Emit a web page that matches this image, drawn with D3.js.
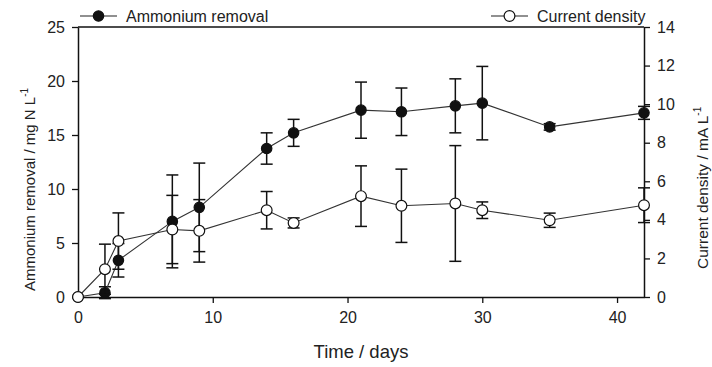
<!DOCTYPE html>
<html>
<head>
<meta charset="utf-8">
<script src="https://cdn.jsdelivr.net/npm/d3@7"></script>
<style>
  html, body { margin: 0; padding: 0; background: #fff; }
  svg { display: block; }
  text { font-family: Arial, "Liberation Sans", sans-serif; fill: #222; }
</style>
</head>
<body>
<svg id="chart" width="712" height="367"></svg>
<script>
// ---- data ----
const days = [0, 2, 3, 7, 9, 14, 16, 21, 24, 28, 30, 35, 42];
const ammonium = [0, 0.4, 3.4, 7.0, 8.3, 13.75, 15.2, 17.3, 17.15, 17.7, 17.95, 15.75, 17.05];
const ammoniumErr = [0, 0.55, 1.55, 4.3, 4.1, 1.45, 1.25, 2.6, 2.2, 2.5, 3.4, 0.3, 0.6];
const current = [0, 1.44, 2.9, 3.5, 3.43, 4.5, 3.84, 5.23, 4.73, 4.85, 4.5, 3.98, 4.76];
const currentErr = [0, 1.3, 1.46, 1.77, 1.62, 0.97, 0.26, 1.57, 1.9, 3.0, 0.43, 0.37, 0.9];
const xTicks = [0, 10, 20, 30, 40];
const yLeftTicks = [0, 5, 10, 15, 20, 25];
const yRightTicks = [0, 2, 4, 6, 8, 10, 12, 14];

const svg = d3.select("#chart");
const L = 78, R = 644, T = 27, B = 297;

const x = d3.scaleLinear().domain([0, 42]).range([L, R]);
const yL = d3.scaleLinear().domain([0, 25]).range([B, T]);
const yR = d3.scaleLinear().domain([0, 14]).range([B, T]);

// frame top line
svg.append("line").attr("x1", L).attr("x2", R).attr("y1", T).attr("y2", T)
  .attr("stroke", "#111").attr("stroke-width", 1.5);

function styleAxis(g) {
  g.selectAll(".domain").attr("stroke", "#111").attr("stroke-width", 1.5);
  g.selectAll(".tick line").attr("stroke", "#111").attr("stroke-width", 1.3);
  g.selectAll(".tick text").style("font-size", "16px").attr("fill", "#222")
    .style("font-family", "Arial, 'Liberation Sans', sans-serif");
}

svg.append("g").attr("transform", `translate(0,${B})`)
  .call(d3.axisBottom(x).tickValues(xTicks).tickSize(6).tickPadding(9).tickSizeOuter(0))
  .call(styleAxis);
svg.append("g").attr("transform", `translate(${L},0)`)
  .call(d3.axisLeft(yL).tickValues(yLeftTicks).tickSize(6).tickPadding(7).tickSizeOuter(0))
  .call(styleAxis);
svg.append("g").attr("transform", `translate(${R},0)`)
  .call(d3.axisRight(yR).tickValues(yRightTicks).tickSize(6).tickPadding(7).tickSizeOuter(0))
  .call(styleAxis);

// series
function drawSeries(vals, errs, y, filled) {
  const pts = days.map((d, i) => ({ d, v: vals[i], e: errs[i] }));
  const g = svg.append("g");
  const eb = g.selectAll(".eb").data(pts.filter(p => p.e > 0)).enter().append("g");
  const cw = 6;
  eb.append("line").attr("x1", p => x(p.d)).attr("x2", p => x(p.d))
    .attr("y1", p => y(p.v - p.e)).attr("y2", p => y(p.v + p.e))
    .attr("stroke", "#111").attr("stroke-width", 1.5);
  eb.append("line").attr("x1", p => x(p.d) - cw).attr("x2", p => x(p.d) + cw)
    .attr("y1", p => y(p.v - p.e)).attr("y2", p => y(p.v - p.e))
    .attr("stroke", "#111").attr("stroke-width", 1.5);
  eb.append("line").attr("x1", p => x(p.d) - cw).attr("x2", p => x(p.d) + cw)
    .attr("y1", p => y(p.v + p.e)).attr("y2", p => y(p.v + p.e))
    .attr("stroke", "#111").attr("stroke-width", 1.5);
  g.append("path").datum(pts)
    .attr("d", d3.line().x(p => x(p.d)).y(p => y(p.v)))
    .attr("fill", "none").attr("stroke", "#333").attr("stroke-width", 1.1);
  g.selectAll("circle").data(pts).enter().append("circle")
    .attr("cx", p => x(p.d)).attr("cy", p => y(p.v))
    .attr("r", filled ? 5.2 : 5.4)
    .attr("fill", filled ? "#111" : "#fff")
    .attr("stroke", "#111").attr("stroke-width", 1.2);
}
drawSeries(ammonium, ammoniumErr, yL, true);
drawSeries(current, currentErr, yR, false);

// legends
function legend(x0, x1, label, filled) {
  const ly = 16;
  svg.append("line").attr("x1", x0).attr("x2", x1).attr("y1", ly).attr("y2", ly)
    .attr("stroke", "#222").attr("stroke-width", 1.2);
  svg.append("circle").attr("cx", (x0 + x1) / 2).attr("cy", ly).attr("r", filled ? 5.2 : 5.4)
    .attr("fill", filled ? "#111" : "#fff").attr("stroke", "#111").attr("stroke-width", 1.2);
  svg.append("text").attr("x", x1 + 9).attr("y", ly + 6).style("font-size", "16px").text(label);
}
legend(80, 117, "Ammonium removal", true);
legend(491, 528, "Current density", false);

// axis titles
svg.append("text").attr("x", (L + R) / 2).attr("y", 358).attr("text-anchor", "middle")
  .style("font-size", "18.5px").text("Time / days");

const lt = svg.append("text").attr("transform", "translate(35,291) rotate(-90)")
  .style("font-size", "15px");
lt.append("tspan").text("Ammonium removal / mg N L");
lt.append("tspan").attr("dy", -7).style("font-size", "10px").text("-1");

const rt = svg.append("text").attr("transform", "translate(708,269) rotate(-90)")
  .style("font-size", "15.5px");
rt.append("tspan").text("Current density / mA L");
rt.append("tspan").attr("dy", -7).style("font-size", "10px").text("-1");
</script>
</body>
</html>
